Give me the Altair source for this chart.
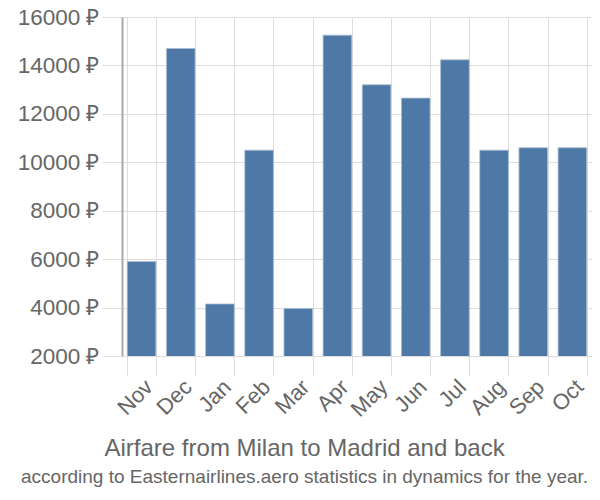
import altair as alt
import pandas as pd

months = ["Nov", "Dec", "Jan", "Feb", "Mar", "Apr", "May", "Jun", "Jul", "Aug", "Sep", "Oct"]
prices = [5900, 14700, 4150, 10500, 3960, 15250, 13200, 12650, 14230, 10500, 10600, 10600]
y_ticks = [2000, 4000, 6000, 8000, 10000, 12000, 14000, 16000]

df = pd.DataFrame({"month": months, "price": prices})

FONT = "Liberation Sans"

chart = alt.Chart(df).mark_bar(
    color="#4e79a7", stroke="#a9bcd3", strokeWidth=1, strokeOpacity=0.8, clip=True
).encode(
    x=alt.X(
        "month:N", sort=months, title=None,
        scale=alt.Scale(paddingInner=0.27, paddingOuter=0.135),
        axis=alt.Axis(
            labelAngle=-45, labelFontSize=22, labelColor="#666666", labelFont=FONT,
            tickBand="extent", grid=True, gridColor="#dddddd", tickColor="#dddddd",
            tickSize=20, domainColor="#dddddd", labelPadding=0,
        ),
    ),
    y=alt.Y(
        "price:Q", title=None,
        scale=alt.Scale(domain=[2000, 16000], nice=False, zero=False),
        axis=alt.Axis(
            values=y_ticks, labelExpr="datum.value + ' ₽'", labelFontSize=22.5,
            labelColor="#666666", labelFont=FONT, gridColor="#dddddd",
            tickColor="#dddddd", tickSize=20, domainColor="#aaaaaa", domainWidth=2,
            labelPadding=3,
        ),
    ),
).properties(
    width=470,
    height=339,
    title=alt.TitleParams(
        text="Airfare from Milan to Madrid and back",
        subtitle="according to Easternairlines.aero statistics in dynamics for the year.",
        orient="bottom", anchor="middle", frame="bounds",
        font=FONT, fontSize=24, fontWeight="normal", color="#666666",
        subtitleFont=FONT, subtitleFontSize=19, subtitleColor="#666666",
        subtitlePadding=7, offset=17,
    ),
    autosize=alt.AutoSizeParams(type="none"),
    padding={"left": 114, "top": 9, "right": 0, "bottom": 134},
).configure_view(stroke=None)

chart.save("out.html", embed_options={"renderer": "svg", "actions": False})
